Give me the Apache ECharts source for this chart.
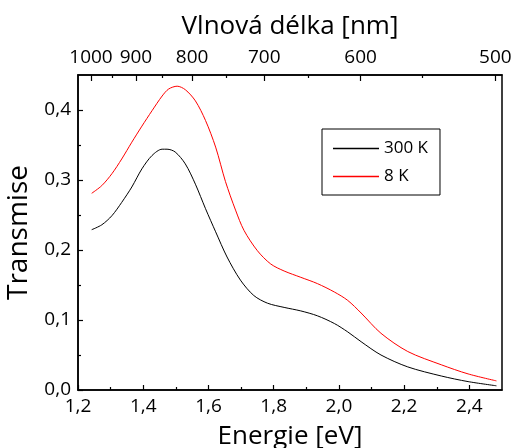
<!DOCTYPE html>
<html>
<head>
<meta charset="utf-8">
<script src="https://cdn.jsdelivr.net/npm/echarts@6/dist/echarts.min.js"></script>
<style>
  html, body { margin: 0; padding: 0; background: #fff; }
  #chart { width: 512px; height: 448px; }
</style>
</head>
<body>
<div id="chart"></div>
<script>
// Transmission spectra at two temperatures (energy in eV)
const energy300 = [1.242, 1.273, 1.304, 1.334, 1.365, 1.396, 1.427, 1.458, 1.473, 1.498, 1.529, 1.560, 1.591, 1.622, 1.657, 1.698, 1.739, 1.781, 1.832, 1.883, 1.934, 1.986, 2.027, 2.068, 2.129, 2.211, 2.314, 2.396, 2.483];
const trans300  = [0.229, 0.236, 0.249, 0.268, 0.290, 0.316, 0.335, 0.344, 0.344, 0.340, 0.323, 0.294, 0.259, 0.226, 0.190, 0.157, 0.135, 0.124, 0.118, 0.113, 0.106, 0.095, 0.083, 0.069, 0.050, 0.033, 0.020, 0.012, 0.006];

const energy8 = [1.242, 1.273, 1.304, 1.334, 1.365, 1.396, 1.427, 1.458, 1.478, 1.504, 1.529, 1.560, 1.591, 1.622, 1.652, 1.683, 1.709, 1.750, 1.791, 1.832, 1.883, 1.934, 1.986, 2.027, 2.068, 2.129, 2.211, 2.314, 2.396, 2.483];
const trans8  = [0.281, 0.292, 0.309, 0.330, 0.354, 0.377, 0.399, 0.420, 0.430, 0.434, 0.429, 0.413, 0.385, 0.347, 0.298, 0.257, 0.228, 0.199, 0.180, 0.170, 0.161, 0.152, 0.140, 0.128, 0.110, 0.081, 0.055, 0.036, 0.023, 0.013];

// Axis ticks
const energyMajor = [1.2, 1.4, 1.6, 1.8, 2.0, 2.2, 2.4];
const energyMinor = [1.3, 1.5, 1.7, 1.9, 2.1, 2.3];
const transMajor = [0.0, 0.1, 0.2, 0.3, 0.4];
const transMinor = [0.05, 0.15, 0.25, 0.35];
const wavelengthMajor = [1000, 900, 800, 700, 600, 500];
const wavelengthMinor = [950, 850, 750, 650, 550];

const HC = 1239.84; // eV·nm
const nmToEv = nm => HC / nm;

const FONT = 'Open Sans';
const comma = v => Number(v).toFixed(1).replace('.', ',');

const chart = echarts.init(document.getElementById('chart'), null, { renderer: 'canvas' });

const baseX = {
  type: 'value', min: 1.2, max: 2.5,
  splitLine: { show: false }
};

chart.setOption({
  animation: false,
  backgroundColor: '#fff',
  grid: {
    left: 78, right: 10, top: 75, bottom: 58,
    outerBoundsMode: 'none', containLabel: false,
    show: true, borderColor: '#000', borderWidth: 1.5, backgroundColor: 'transparent'
  },
  legend: {
    orient: 'vertical', left: 322, top: 129,
    padding: [11, 12, 10, 11],
    icon: 'rect', itemWidth: 46, itemHeight: 1.3, itemGap: 11,
    borderColor: '#000', borderWidth: 1,
    textStyle: { fontFamily: FONT, fontSize: 17, color: '#000', lineHeight: 14 },
    data: ['300 K', '8 K']
  },
  xAxis: [
    Object.assign({}, baseX, {
      position: 'bottom',
      name: 'Energie [eV]', nameLocation: 'middle', nameGap: 34,
      nameTextStyle: { fontFamily: FONT, fontSize: 26, color: '#000' },
      axisLine: { show: true, lineStyle: { color: '#000', width: 1.5 } },
      axisTick: { show: true, inside: true, length: 5, customValues: energyMajor, lineStyle: { color: '#000', width: 1.2 } },
      axisLabel: { customValues: energyMajor, formatter: comma, fontFamily: FONT, fontSize: 19, color: '#000', margin: 7 }
    }),
    Object.assign({}, baseX, {
      position: 'bottom',
      axisLine: { show: false },
      axisTick: { show: true, inside: true, length: 3, customValues: energyMinor, lineStyle: { color: '#000', width: 1.2 } },
      axisLabel: { show: false }
    }),
    Object.assign({}, baseX, {
      position: 'top',
      name: 'Vlnová délka [nm]', nameLocation: 'middle', nameGap: 35,
      nameTextStyle: { fontFamily: FONT, fontSize: 26, color: '#000' },
      axisLine: { show: true, lineStyle: { color: '#000', width: 1.5 } },
      axisTick: { show: true, inside: true, length: 6, customValues: wavelengthMajor.map(nmToEv), lineStyle: { color: '#000', width: 1.2 } },
      axisLabel: {
        customValues: wavelengthMajor.map(nmToEv),
        formatter: v => String(Math.round(HC / v)),
        fontFamily: FONT, fontSize: 19, color: '#000', margin: 8
      }
    }),
    Object.assign({}, baseX, {
      position: 'top',
      axisLine: { show: false },
      axisTick: { show: true, inside: true, length: 3, customValues: wavelengthMinor.map(nmToEv), lineStyle: { color: '#000', width: 1.2 } },
      axisLabel: { show: false }
    })
  ],
  yAxis: [
    {
      type: 'value', min: 0, max: 0.45, position: 'left',
      name: 'Transmise', nameLocation: 'middle', nameGap: 44,
      nameTextStyle: { fontFamily: FONT, fontSize: 28, color: '#000' },
      splitLine: { show: false },
      axisLine: { show: true, lineStyle: { color: '#000', width: 1.5 } },
      axisTick: { show: true, inside: true, length: 5, customValues: transMajor, lineStyle: { color: '#000', width: 1.2 } },
      axisLabel: { customValues: transMajor, formatter: comma, fontFamily: FONT, fontSize: 19, color: '#000', margin: 7 }
    },
    {
      type: 'value', min: 0, max: 0.45, position: 'left',
      splitLine: { show: false },
      axisLine: { show: false },
      axisTick: { show: true, inside: true, length: 3, customValues: transMinor, lineStyle: { color: '#000', width: 1.2 } },
      axisLabel: { show: false }
    }
  ],
  series: [
    {
      name: '300 K', type: 'line', xAxisIndex: 0, yAxisIndex: 0,
      smooth: 0.3, symbol: 'none',
      lineStyle: { color: '#000', width: 1 }, itemStyle: { color: '#000' },
      data: energy300.map((e, i) => [e, trans300[i]])
    },
    {
      name: '8 K', type: 'line', xAxisIndex: 0, yAxisIndex: 0,
      smooth: 0.3, symbol: 'none',
      lineStyle: { color: '#ff0000', width: 1 }, itemStyle: { color: '#ff0000' },
      data: energy8.map((e, i) => [e, trans8[i]])
    }
  ]
});
</script>
</body>
</html>
